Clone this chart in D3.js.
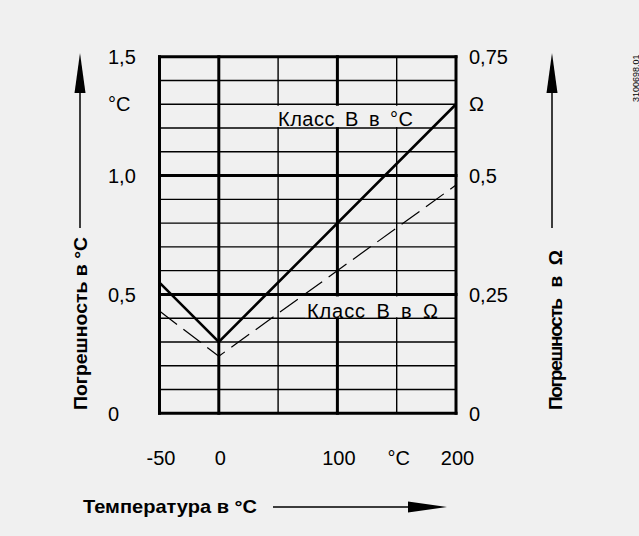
<!DOCTYPE html>
<html>
<head>
<meta charset="utf-8">
<script src="https://cdn.jsdelivr.net/npm/d3@7"></script>
<style>
  body { margin: 0; background: #f0f0f0; }
  svg { display: block; }
  text { font-family: "Liberation Sans", Arial, sans-serif; fill: #000; }
</style>
</head>
<body>
<svg id="chart" width="639" height="536"></svg>
<script>
// temperature points where tolerance curves bend
var temps = [-50, 0, 200];
// class B tolerance in °C (left axis)
var tolC = [0.55, 0.3, 1.3];
// class B tolerance in Ohm (right axis)
var tolOhm = [0.215, 0.12, 0.48];

var xTicks = [-50, 0, 100, 200];
var xTickLabels = ["-50", "0", "100", "200"];
var leftTicks = [0, 0.5, 1.0, 1.5];
var leftTickLabels = ["0", "0,5", "1,0", "1,5"];
var rightTicks = [0, 0.25, 0.5, 0.75];
var rightTickLabels = ["0", "0,25", "0,5", "0,75"];

var svg = d3.select("#chart");
svg.append("rect").attr("width", 639).attr("height", 536).attr("fill", "#f0f0f0");

var x = d3.scaleLinear().domain([-50, 200]).range([159.5, 456]);
var yC = d3.scaleLinear().domain([0, 1.5]).range([413.3, 56.7]);
var yO = d3.scaleLinear().domain([0, 0.75]).range([413.3, 56.7]);

var grid = svg.append("g");
var hVals = d3.range(0, 16).map(function(i) { return i / 10; });
var vVals = d3.range(-50, 201, 50);
function isHeavyH(v) { return Math.abs(v * 2 - Math.round(v * 2)) < 1e-6; }
function isHeavyV(v) { return v == -50 || v == 0 || v == 100 || v == 200; }

// thin lines first
grid.selectAll(".hthin").data(hVals.filter(function(v) { return !isHeavyH(v); }))
  .enter().append("line")
  .attr("x1", x(-50)).attr("x2", x(200))
  .attr("y1", function(d) { return yC(d); }).attr("y2", function(d) { return yC(d); })
  .attr("stroke", "#000").attr("stroke-width", 1.4);
grid.selectAll(".vthin").data(vVals.filter(function(v) { return !isHeavyV(v); }))
  .enter().append("line")
  .attr("y1", yC(0)).attr("y2", yC(1.5))
  .attr("x1", function(d) { return x(d); }).attr("x2", function(d) { return x(d); })
  .attr("stroke", "#000").attr("stroke-width", 1.4);
// heavy lines
grid.selectAll(".hheavy").data(hVals.filter(isHeavyH))
  .enter().append("line")
  .attr("x1", x(-50) - 1.5).attr("x2", x(200) + 1.5)
  .attr("y1", function(d) { return yC(d); }).attr("y2", function(d) { return yC(d); })
  .attr("stroke", "#000").attr("stroke-width", 3);
grid.selectAll(".vheavy").data(vVals.filter(isHeavyV))
  .enter().append("line")
  .attr("y1", yC(0) + 1.5).attr("y2", yC(1.5) - 1.5)
  .attr("x1", function(d) { return x(d); }).attr("x2", function(d) { return x(d); })
  .attr("stroke", "#000").attr("stroke-width", 3);

// curve labels with background patches that hide the grid behind
function curveLabel(tx, ty, y0, y1, str, len) {
  var g = svg.append("g");
  var r = g.append("rect").attr("fill", "#f0f0f0");
  var t = g.append("text").attr("x", tx).attr("y", ty)
    .attr("font-size", 20).attr("word-spacing", 4)
    .attr("textLength", len).attr("lengthAdjust", "spacing").text(str);
  var bb = t.node().getBBox();
  r.attr("x", bb.x - 2).attr("width", bb.width + 4).attr("y", y0).attr("height", y1 - y0);
}
curveLabel(278, 126, yC(1.3) + 1.5, yC(1.2) - 1, "Класс B в °C", 135);
curveLabel(307, 318, yC(0.5) + 2, yC(0.4) - 1, "Класс B в Ω", 131);

var pts = temps.map(function(t, i) { return { t: t, c: tolC[i], o: tolOhm[i] }; });
svg.append("path").datum(pts)
  .attr("d", d3.line().x(function(d) { return x(d.t); }).y(function(d) { return yC(d.c); }))
  .attr("fill", "none").attr("stroke", "#000").attr("stroke-width", 2.6);
svg.append("path").datum(pts)
  .attr("d", d3.line().x(function(d) { return x(d.t); }).y(function(d) { return yO(d.o); }))
  .attr("fill", "none").attr("stroke", "#000").attr("stroke-width", 1.2)
  .attr("stroke-dasharray", "22,8");

// tick labels
var fs = 20;
svg.selectAll(".lt").data(leftTicks).enter().append("text")
  .attr("x", 108).attr("y", function(d) { return yC(d); }).attr("dy", "0.36em")
  .attr("font-size", fs).text(function(d, i) { return leftTickLabels[i]; });
svg.append("text").attr("x", 108).attr("y", yC(1.3)).attr("dy", "0.36em")
  .attr("font-size", fs).text("°C");
svg.selectAll(".rt").data(rightTicks).enter().append("text")
  .attr("x", 469).attr("y", function(d) { return yO(d); }).attr("dy", "0.36em")
  .attr("font-size", fs).text(function(d, i) { return rightTickLabels[i]; });
svg.append("text").attr("x", 469).attr("y", yO(0.65)).attr("dy", "0.36em")
  .attr("font-size", fs).attr("font-family", "Liberation Serif, serif").text("Ω");
svg.selectAll(".bt").data(xTicks).enter().append("text")
  .attr("x", function(d) { return x(d) + 1.5; }).attr("y", 465)
  .attr("text-anchor", "middle").attr("font-size", fs)
  .text(function(d, i) { return xTickLabels[i]; });
svg.append("text").attr("x", x(150) + 2).attr("y", 465)
  .attr("text-anchor", "middle").attr("font-size", fs).text("°C");

// axis titles
svg.append("text").attr("x", 83).attr("y", 513)
  .attr("font-size", 19).attr("font-weight", "bold")
  .attr("textLength", 174).attr("lengthAdjust", "spacingAndGlyphs")
  .text("Температура в °C");
svg.append("text").attr("transform", "translate(87,410) rotate(-90)")
  .attr("font-size", 19).attr("font-weight", "bold")
  .attr("textLength", 173).attr("lengthAdjust", "spacingAndGlyphs")
  .text("Погрешность в °C");
svg.append("text").attr("transform", "translate(562,410) rotate(-90)")
  .attr("font-size", 19).attr("font-weight", "bold").attr("word-spacing", 8)
  .attr("textLength", 160).attr("lengthAdjust", "spacing")
  .text("Погрешность в Ω");

// arrows
function vArrow(ax) {
  svg.append("line").attr("x1", ax).attr("x2", ax).attr("y1", 228).attr("y2", 90)
    .attr("stroke", "#000").attr("stroke-width", 1.5);
  svg.append("path").attr("d", "M" + ax + ",53L" + (ax - 5.5) + ",93L" + (ax + 5.5) + ",93Z")
    .attr("fill", "#000");
}
vArrow(80);
vArrow(552);
svg.append("line").attr("x1", 273).attr("x2", 410).attr("y1", 507).attr("y2", 507)
  .attr("stroke", "#000").attr("stroke-width", 1.5);
svg.append("path").attr("d", "M447,507L408,501.5L408,512.5Z").attr("fill", "#000");

// drawing code on the right edge
svg.append("text").attr("transform", "translate(638.5,102) rotate(-90)")
  .attr("font-size", 9).text("3100698.01");
</script>
</body>
</html>
